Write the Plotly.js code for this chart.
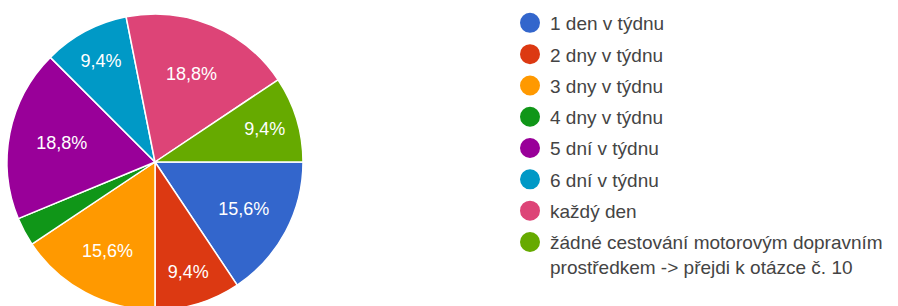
<!DOCTYPE html>
<html>
<head>
<meta charset="utf-8">
<script src="https://cdn.plot.ly/plotly-3.0.1.min.js"></script>
<style>
html, body { margin: 0; padding: 0; overflow: hidden; background: #fff; }
#chart { width: 898px; height: 310px; }
</style>
</head>
<body>
<div id="chart"></div>
<script>
const categories = [
  "1 den v týdnu",
  "2 dny v týdnu",
  "3 dny v týdnu",
  "4 dny v týdnu",
  "5 dní v týdnu",
  "6 dní v týdnu",
  "každý den",
  "žádné cestování motorovým dopravním<br>prostředkem -> přejdi k otázce č. 10"
];
const counts = [5, 3, 5, 1, 6, 3, 6, 3];
const colors = ["#3366cc", "#dc3912", "#ff9900", "#109618", "#990099", "#0099c6", "#dd4477", "#66aa00"];

const total = counts.reduce((a, b) => a + b, 0);
const labelsText = counts.map(v => {
  const p = v / total * 100;
  return p < 5 ? "" : p.toFixed(1).replace(".", ",") + "%";
});

const W = 898, H = 310;
const cx = 155, cy = 162, r = 148;

const traces = [{
  type: "pie",
  labels: categories,
  values: counts,
  text: labelsText,
  textinfo: "text",
  textposition: "inside",
  insidetextorientation: "horizontal",
  sort: false,
  direction: "clockwise",
  rotation: 90,
  showlegend: false,
  marker: { colors: colors, line: { color: "#ffffff", width: 1.5 } },
  insidetextfont: { family: "Arial, Liberation Sans, sans-serif", size: 18, color: "#ffffff" },
  domain: { x: [(cx - r) / W, (cx + r) / W], y: [(H - cy - r) / H, (H - cy + r) / H] },
  hoverinfo: "none"
}];

categories.forEach((c, i) => {
  traces.push({
    type: "scatter",
    mode: "markers",
    x: [null], y: [null],
    name: c,
    legendgroup: "g" + i,
    marker: { color: colors[i], size: 16, symbol: "circle", line: { color: colors[i], width: 4 } },
    showlegend: true,
    hoverinfo: "none"
  });
});

const layout = {
  width: W, height: H,
  margin: { l: 0, r: 0, t: 0, b: 0 },
  paper_bgcolor: "#ffffff",
  plot_bgcolor: "#ffffff",
  xaxis: { visible: false },
  yaxis: { visible: false },
  showlegend: true,
  legend: {
    x: 510 / W, xanchor: "left",
    y: 1 - 4 / H, yanchor: "top",
    valign: "top",
    tracegroupgap: 3.6,
    font: { family: "Arial, Liberation Sans, sans-serif", size: 19, color: "#444444" },
    bgcolor: "rgba(0,0,0,0)"
  },
  font: { family: "Arial, Liberation Sans, sans-serif" }
};

Plotly.newPlot("chart", traces, layout, { displayModeBar: false, staticPlot: true });
</script>
</body>
</html>
